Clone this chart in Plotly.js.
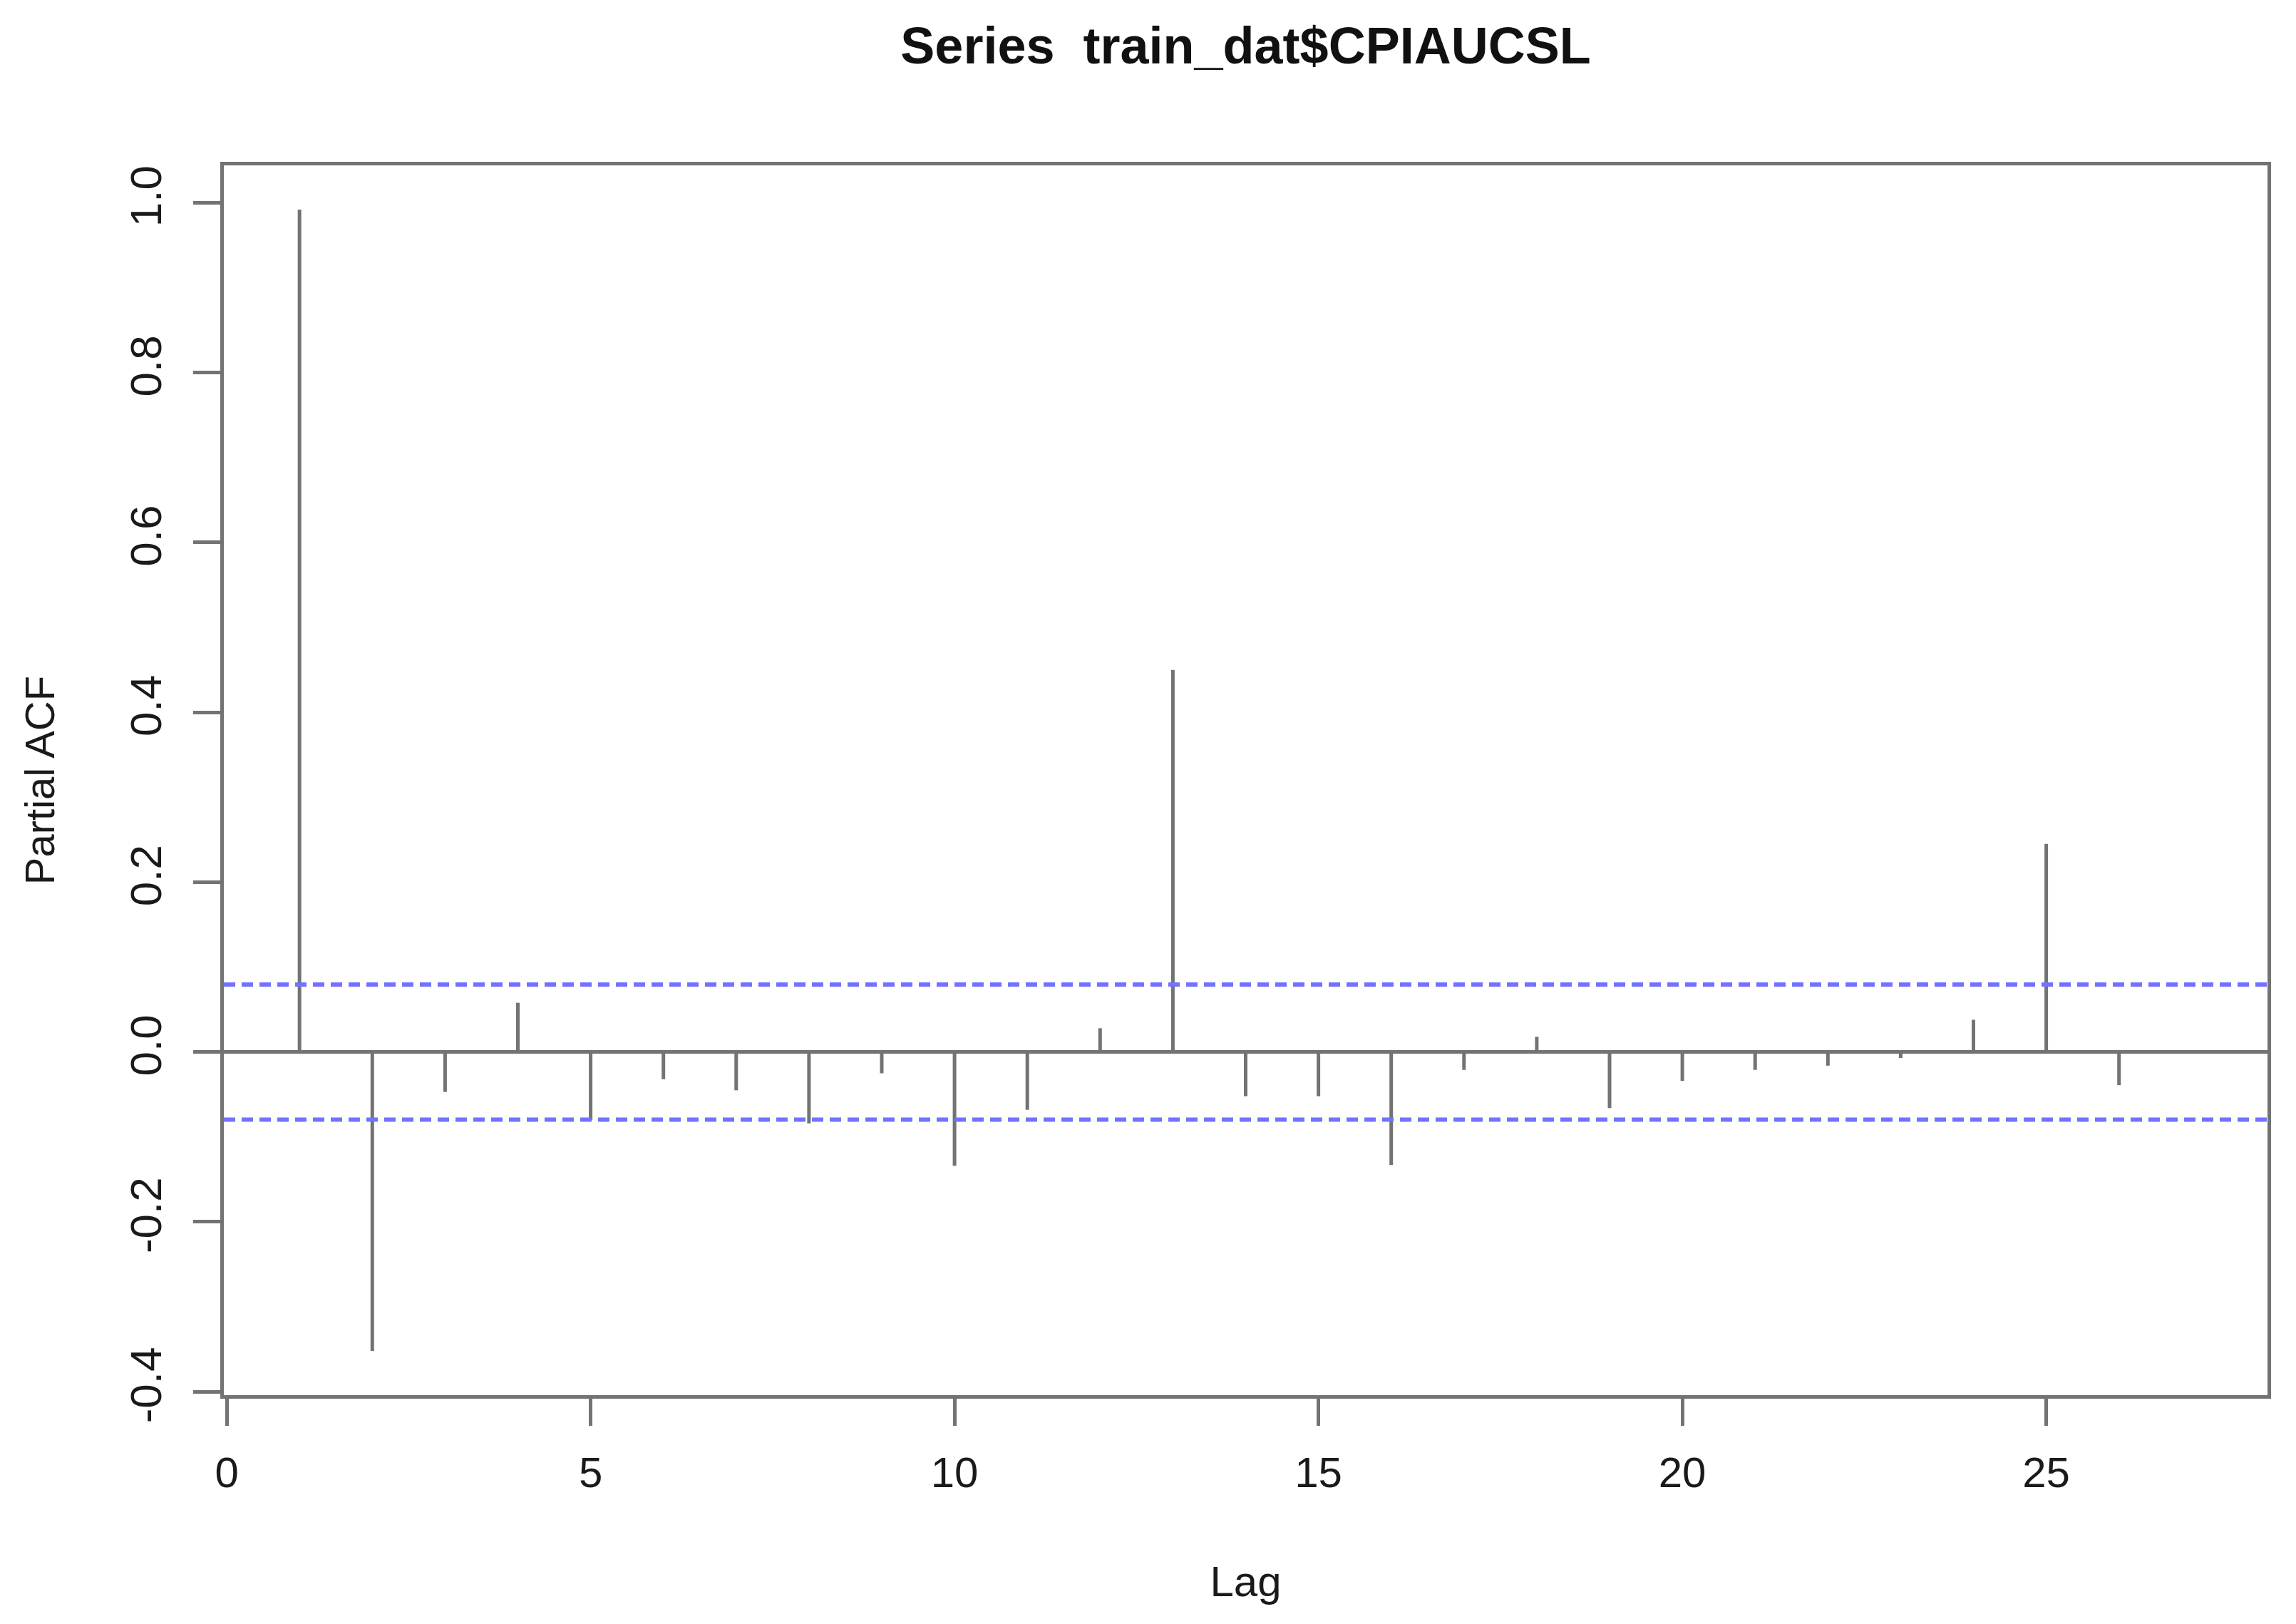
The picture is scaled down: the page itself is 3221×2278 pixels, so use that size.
<!DOCTYPE html>
<html>
<head>
<meta charset="utf-8">
<script src="https://cdn.plot.ly/plotly-3.0.1.min.js"></script>
<style>html,body{margin:0;padding:0;background:#fff;}#chart{width:3221px;height:2278px;}</style>
</head>
<body>
<div id="chart"></div>
<script>
const chartTitle = "Series  train_dat$CPIAUCSL";
const xAxisTitle = "Lag";
const yAxisTitle = "Partial ACF";
const lags = [1,2,3,4,5,6,7,8,9,10,11,12,13,14,15,16,17,18,19,20,21,22,23,24,25,26,27];
const pacfValues = [0.992,-0.352,-0.047,0.058,-0.080,-0.032,-0.045,-0.084,-0.025,-0.134,-0.068,0.028,0.450,-0.052,-0.052,-0.133,-0.021,0.018,-0.066,-0.034,-0.021,-0.016,-0.007,0.038,0.245,-0.039,0.001];
const confLimit = 0.0796;
const xTickVals = [0,5,10,15,20,25];
const yTickVals = [-0.4,-0.2,0.0,0.2,0.4,0.6,0.8,1.0];
const yTickText = ["-0.4","-0.2","0.0","0.2","0.4","0.6","0.8","1.0"];

const spikeX = [], spikeY = [];
lags.forEach((l, i) => { spikeX.push(l, l, null); spikeY.push(0, pacfValues[i], null); });

const lineGray = "#737373";
const fontFam = "Liberation Sans, Arial, sans-serif";

const traces = [{
  type: "scatter", mode: "lines", x: spikeX, y: spikeY,
  line: {color: lineGray, width: 5}, hoverinfo: "skip", showlegend: false
}];

const layout = {
  width: 3221, height: 2278,
  margin: {l: 314, r: 40, t: 232, b: 321, pad: 0},
  paper_bgcolor: "#ffffff", plot_bgcolor: "#ffffff",
  showlegend: false,
  font: {family: fontFam, color: "#1a1a1a", size: 58},
  title: {text: "<b>" + chartTitle + "</b>", font: {family: fontFam, size: 72, color: "#111"},
          x: 0.5, xref: "paper", y: 1 - 64/2278, yref: "container", yanchor: "middle"},
  xaxis: {
    range: [-0.04, 28.04], tickmode: "array", tickvals: xTickVals, ticktext: xTickVals.map(String),
    ticks: "outside", ticklen: 38, tickwidth: 5, tickcolor: lineGray, ticklabelstandoff: 14,
    showline: true, linecolor: lineGray, linewidth: 5, mirror: true,
    showgrid: false, zeroline: false,
    tickfont: {family: fontFam, size: 60, color: "#1a1a1a"},
    title: {text: xAxisTitle, font: {family: fontFam, size: 60, color: "#1a1a1a"}, standoff: 100}
  },
  yaxis: {
    range: [-0.404, 1.044], tickmode: "array", tickvals: yTickVals, ticktext: yTickText,
    tickangle: -90,
    ticks: "outside", ticklen: 38, tickwidth: 5, tickcolor: lineGray, ticklabelstandoff: 20,
    showline: true, linecolor: lineGray, linewidth: 5, mirror: true,
    showgrid: false, zeroline: true, zerolinecolor: lineGray, zerolinewidth: 5,
    tickfont: {family: fontFam, size: 62, color: "#1a1a1a"},
    title: {text: yAxisTitle, font: {family: fontFam, size: 58, color: "#1a1a1a"}, standoff: 76}
  },
  shapes: [confLimit, -confLimit].map(v => ({
    type: "line", xref: "paper", x0: 0, x1: 1, yref: "y", y0: v, y1: v,
    line: {color: "#7272ff", width: 6, dash: "16px,9px"}
  }))
};

Plotly.newPlot("chart", traces, layout, {staticPlot: true, displayModeBar: false});
</script>
</body>
</html>
